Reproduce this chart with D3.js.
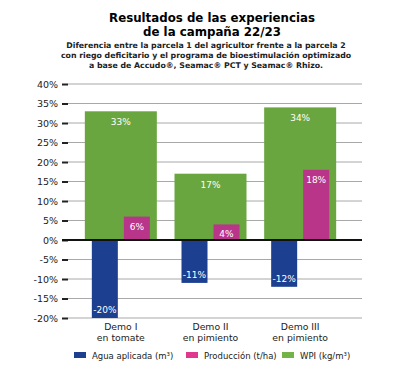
<!DOCTYPE html>
<html>
<head>
<meta charset="utf-8">
<script src="https://cdn.jsdelivr.net/npm/d3@7"></script>
<style>
  body { margin: 0; background: #fff; }
  svg { font-family: "DejaVu Sans", sans-serif; }
</style>
</head>
<body>
<svg id="chart"></svg>
<script>
const categories = [["Demo I", "en tomate"], ["Demo II", "en pimiento"], ["Demo III", "en pimiento"]];
const wpi = [33, 17, 34];
const produccion = [6, 4, 18];
const agua = [-20, -11, -12];
const yTicks = [40, 35, 30, 25, 20, 15, 10, 5, 0, -5, -10, -15, -20];
const legendLabels = ["Agua aplicada (m³)", "Producción (t/ha)", "WPI (kg/m³)"];

const width = 394, height = 377;
const svg = d3.select("#chart").attr("width", width).attr("height", height);

const colors = { agua: "#1c3f8f", prod: "#b9358a", wpi: "#6aa640" };
const legendColors = ["#1c3f8f", "#e0378f", "#74b347"];

// titles
const titles = svg.append("g").attr("text-anchor", "middle");
titles.append("text").attr("x", 212).attr("y", 22)
  .style("font-size", "11.8px").style("font-weight", "bold")
  .text("Resultados de las experiencias");
titles.append("text").attr("x", 212).attr("y", 36)
  .style("font-size", "11.8px").style("font-weight", "bold")
  .text("de la campaña 22/23");
const sub = [
  "Diferencia entre la parcela 1 del agricultor frente a la parcela 2",
  "con riego deficitario y el programa de bioestimulación optimizado"
];
sub.forEach((t, i) => {
  titles.append("text").attr("x", 206).attr("y", 48 + i * 10)
    .style("font-size", "7.8px").style("font-weight", "bold").style("fill", "#222")
    .text(t);
});
const last = titles.append("text").attr("x", 206).attr("y", 68)
  .style("font-size", "7.8px").style("font-weight", "bold").style("fill", "#222");
last.append("tspan").text("a base de ");
last.append("tspan").style("font-weight", "900").text("Accudo®, Seamac® PCT y Seamac® Rhizo.");

// scales
const y = d3.scaleLinear().domain([-20, 40]).range([318, 84]);
const x = d3.scaleBand().domain(d3.range(categories.length)).range([76, 345]);
const gridRight = 362;

// grid
svg.append("g").selectAll("line").data(yTicks).join("line")
  .attr("x1", 68).attr("x2", gridRight)
  .attr("y1", d => y(d)).attr("y2", d => y(d))
  .attr("stroke", "#a8a8a8").attr("stroke-width", 1);

// y axis
const yAxis = d3.axisLeft(y).tickValues(yTicks).tickSize(6).tickPadding(4)
  .tickFormat(d => d + "%");
const yg = svg.append("g").attr("transform", "translate(68,0)").call(yAxis);
yg.select(".domain").remove();
yg.selectAll(".tick line").attr("stroke", "#222").attr("stroke-width", 2);
yg.selectAll(".tick text").style("font-size", "9.5px").style("fill", "#222")
  .style("font-family", "DejaVu Sans, sans-serif");

// bars
const center = i => x(i) + x.bandwidth() / 2;
const wideW = 72, narrowW = 26;

svg.append("g").selectAll("rect").data(wpi).join("rect")
  .attr("x", (d, i) => center(i) - wideW / 2).attr("width", wideW)
  .attr("y", d => y(d)).attr("height", d => y(0) - y(d))
  .attr("fill", colors.wpi);

svg.append("g").selectAll("rect").data(produccion).join("rect")
  .attr("x", (d, i) => center(i) + 3).attr("width", narrowW)
  .attr("y", d => y(d)).attr("height", d => y(0) - y(d))
  .attr("fill", colors.prod);

svg.append("g").selectAll("rect").data(agua).join("rect")
  .attr("x", (d, i) => center(i) - 3 - narrowW).attr("width", narrowW)
  .attr("y", y(0)).attr("height", d => y(d) - y(0))
  .attr("fill", colors.agua);

// zero line
svg.append("line").attr("x1", 62).attr("x2", gridRight)
  .attr("y1", y(0)).attr("y2", y(0))
  .attr("stroke", "#111").attr("stroke-width", 2);

// value labels
const lab = svg.append("g").attr("text-anchor", "middle")
  .style("font-size", "9px").style("fill", "#fff");
lab.selectAll(".w").data(wpi).join("text").attr("class", "w")
  .attr("x", (d, i) => center(i)).attr("y", d => y(d) + 14)
  .text(d => d + "%");
lab.selectAll(".p").data(produccion).join("text").attr("class", "p")
  .attr("x", (d, i) => center(i) + 3 + narrowW / 2).attr("y", d => y(d) + 13)
  .text(d => d + "%");
lab.selectAll(".a").data(agua).join("text").attr("class", "a")
  .attr("x", (d, i) => center(i) - 3 - narrowW / 2).attr("y", d => y(d) - 5)
  .text(d => d + "%");

// category labels
const cat = svg.append("g").attr("text-anchor", "middle")
  .style("font-size", "9.3px").style("fill", "#222");
categories.forEach((c, i) => {
  c.forEach((t, j) => {
    cat.append("text").attr("x", center(i)).attr("y", 330 + j * 11).text(t);
  });
});

// legend
const legendX = [74, 186, 282];
const lg = svg.append("g");
legendLabels.forEach((t, i) => {
  lg.append("rect").attr("x", legendX[i]).attr("y", 352).attr("width", 12).attr("height", 6)
    .attr("fill", legendColors[i]);
  lg.append("text").attr("x", legendX[i] + 18).attr("y", 359)
    .style("font-size", "8.5px").style("fill", "#222").text(t);
});
</script>
</body>
</html>
